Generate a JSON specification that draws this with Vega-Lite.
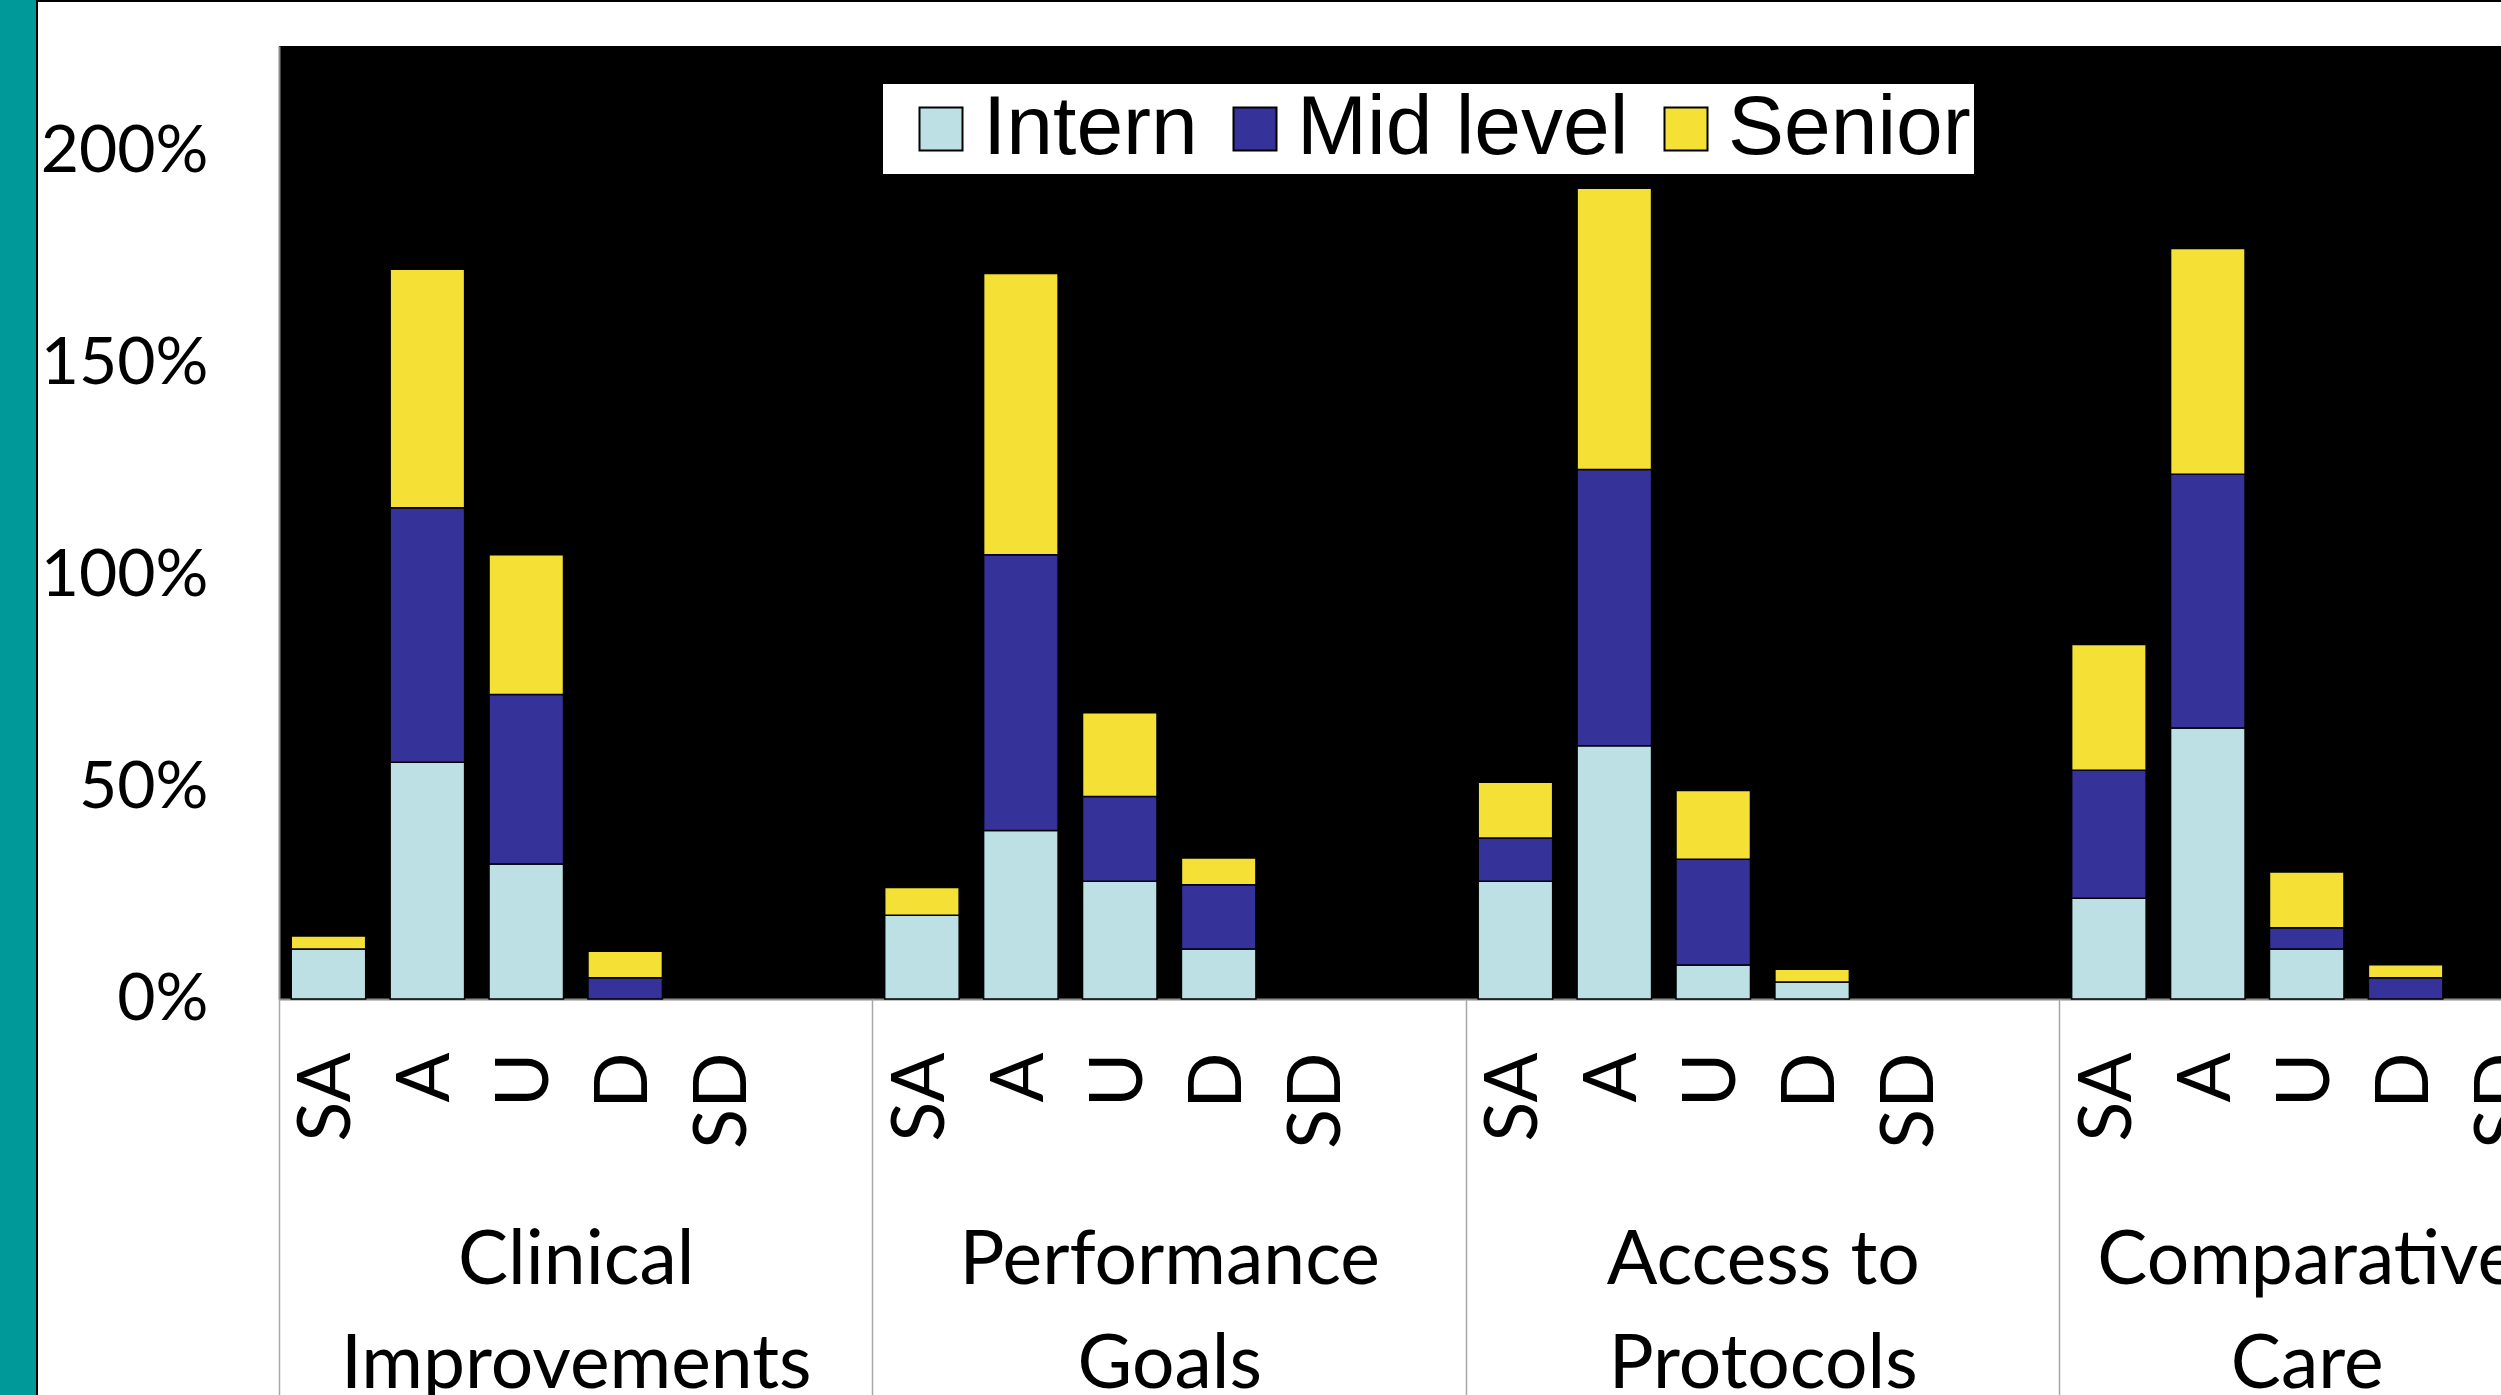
{
  "$schema": "https://vega.github.io/schema/vega-lite/v6.json",
  "width": 2222,
  "height": 953,
  "autosize": {"type": "none"},
  "padding": {"left": 279, "top": 46, "right": 0, "bottom": 396},
  "background": "white",
  "config": {
    "view": {"fill": "black", "stroke": null},
    "axis": {"grid": false, "labelColor": "black", "title": null}
  },
  "datasets": {
    "survey": [
      {"topic": "Clinical Improvements", "answer": "SA", "level": "Intern", "pct": 0.118},
      {"topic": "Clinical Improvements", "answer": "SA", "level": "Mid level", "pct": 0},
      {"topic": "Clinical Improvements", "answer": "SA", "level": "Senior", "pct": 0.031},
      {"topic": "Clinical Improvements", "answer": "A", "level": "Intern", "pct": 0.559},
      {"topic": "Clinical Improvements", "answer": "A", "level": "Mid level", "pct": 0.601},
      {"topic": "Clinical Improvements", "answer": "A", "level": "Senior", "pct": 0.563},
      {"topic": "Clinical Improvements", "answer": "U", "level": "Intern", "pct": 0.319},
      {"topic": "Clinical Improvements", "answer": "U", "level": "Mid level", "pct": 0.4},
      {"topic": "Clinical Improvements", "answer": "U", "level": "Senior", "pct": 0.33},
      {"topic": "Clinical Improvements", "answer": "D", "level": "Intern", "pct": 0},
      {"topic": "Clinical Improvements", "answer": "D", "level": "Mid level", "pct": 0.05},
      {"topic": "Clinical Improvements", "answer": "D", "level": "Senior", "pct": 0.063},
      {"topic": "Clinical Improvements", "answer": "SD", "level": "Intern", "pct": 0},
      {"topic": "Clinical Improvements", "answer": "SD", "level": "Mid level", "pct": 0},
      {"topic": "Clinical Improvements", "answer": "SD", "level": "Senior", "pct": 0},
      {"topic": "Performance Goals", "answer": "SA", "level": "Intern", "pct": 0.198},
      {"topic": "Performance Goals", "answer": "SA", "level": "Mid level", "pct": 0},
      {"topic": "Performance Goals", "answer": "SA", "level": "Senior", "pct": 0.065},
      {"topic": "Performance Goals", "answer": "A", "level": "Intern", "pct": 0.398},
      {"topic": "Performance Goals", "answer": "A", "level": "Mid level", "pct": 0.651},
      {"topic": "Performance Goals", "answer": "A", "level": "Senior", "pct": 0.664},
      {"topic": "Performance Goals", "answer": "U", "level": "Intern", "pct": 0.278},
      {"topic": "Performance Goals", "answer": "U", "level": "Mid level", "pct": 0.2},
      {"topic": "Performance Goals", "answer": "U", "level": "Senior", "pct": 0.198},
      {"topic": "Performance Goals", "answer": "D", "level": "Intern", "pct": 0.118},
      {"topic": "Performance Goals", "answer": "D", "level": "Mid level", "pct": 0.152},
      {"topic": "Performance Goals", "answer": "D", "level": "Senior", "pct": 0.063},
      {"topic": "Performance Goals", "answer": "SD", "level": "Intern", "pct": 0},
      {"topic": "Performance Goals", "answer": "SD", "level": "Mid level", "pct": 0},
      {"topic": "Performance Goals", "answer": "SD", "level": "Senior", "pct": 0},
      {"topic": "Access to Protocols", "answer": "SA", "level": "Intern", "pct": 0.278},
      {"topic": "Access to Protocols", "answer": "SA", "level": "Mid level", "pct": 0.102},
      {"topic": "Access to Protocols", "answer": "SA", "level": "Senior", "pct": 0.132},
      {"topic": "Access to Protocols", "answer": "A", "level": "Intern", "pct": 0.598},
      {"topic": "Access to Protocols", "answer": "A", "level": "Mid level", "pct": 0.652},
      {"topic": "Access to Protocols", "answer": "A", "level": "Senior", "pct": 0.664},
      {"topic": "Access to Protocols", "answer": "U", "level": "Intern", "pct": 0.08},
      {"topic": "Access to Protocols", "answer": "U", "level": "Mid level", "pct": 0.25},
      {"topic": "Access to Protocols", "answer": "U", "level": "Senior", "pct": 0.162},
      {"topic": "Access to Protocols", "answer": "D", "level": "Intern", "pct": 0.04},
      {"topic": "Access to Protocols", "answer": "D", "level": "Mid level", "pct": 0},
      {"topic": "Access to Protocols", "answer": "D", "level": "Senior", "pct": 0.03},
      {"topic": "Access to Protocols", "answer": "SD", "level": "Intern", "pct": 0},
      {"topic": "Access to Protocols", "answer": "SD", "level": "Mid level", "pct": 0},
      {"topic": "Access to Protocols", "answer": "SD", "level": "Senior", "pct": 0},
      {"topic": "Comparative Care", "answer": "SA", "level": "Intern", "pct": 0.238},
      {"topic": "Comparative Care", "answer": "SA", "level": "Mid level", "pct": 0.302},
      {"topic": "Comparative Care", "answer": "SA", "level": "Senior", "pct": 0.297},
      {"topic": "Comparative Care", "answer": "A", "level": "Intern", "pct": 0.64},
      {"topic": "Comparative Care", "answer": "A", "level": "Mid level", "pct": 0.599},
      {"topic": "Comparative Care", "answer": "A", "level": "Senior", "pct": 0.533},
      {"topic": "Comparative Care", "answer": "U", "level": "Intern", "pct": 0.118},
      {"topic": "Comparative Care", "answer": "U", "level": "Mid level", "pct": 0.05},
      {"topic": "Comparative Care", "answer": "U", "level": "Senior", "pct": 0.132},
      {"topic": "Comparative Care", "answer": "D", "level": "Intern", "pct": 0},
      {"topic": "Comparative Care", "answer": "D", "level": "Mid level", "pct": 0.05},
      {"topic": "Comparative Care", "answer": "D", "level": "Senior", "pct": 0.031},
      {"topic": "Comparative Care", "answer": "SD", "level": "Intern", "pct": 0},
      {"topic": "Comparative Care", "answer": "SD", "level": "Mid level", "pct": 0},
      {"topic": "Comparative Care", "answer": "SD", "level": "Senior", "pct": 0}
    ]
  },
  "layer": [
    {
      "data": {"name": "survey"},
      "transform": [
        {"filter": "datum.pct > 0"},
        {"calculate": "datum.topic + '|' + datum.answer", "as": "slot"}
      ],
      "mark": {"type": "bar", "width": {"band": 0.753}, "stroke": "black", "strokeWidth": 1.5},
      "encoding": {
        "x": {
          "field": "slot",
          "type": "nominal",
          "sort": null,
          "scale": {
            "domain": [
              "Clinical Improvements|SA", "Clinical Improvements|A", "Clinical Improvements|U", "Clinical Improvements|D", "Clinical Improvements|SD", "Clinical Improvements|",
              "Performance Goals|SA", "Performance Goals|A", "Performance Goals|U", "Performance Goals|D", "Performance Goals|SD", "Performance Goals|",
              "Access to Protocols|SA", "Access to Protocols|A", "Access to Protocols|U", "Access to Protocols|D", "Access to Protocols|SD", "Access to Protocols|",
              "Comparative Care|SA", "Comparative Care|A", "Comparative Care|U", "Comparative Care|D", "Comparative Care|SD"
            ],
            "range": [0, 2275],
            "paddingInner": 0,
            "paddingOuter": 0
          },
          "axis": {
            "orient": "bottom",
            "labelExpr": "slice(datum.value, indexof(datum.value, '|') + 1)",
            "labelAngle": 270,
            "labelFont": "Lato",
            "labelFontSize": 74,
            "labelPadding": 53,
            "labelOverlap": false,
            "labelBound": false,
            "ticks": false,
            "domainColor": "#8c8c8c",
            "domainWidth": 2
          }
        },
        "y": {
          "field": "pct",
          "type": "quantitative",
          "stack": "zero",
          "scale": {"domain": [0, 2.25], "nice": false},
          "axis": {
            "values": [0, 0.5, 1, 1.5, 2],
            "format": ".0%",
            "labelFont": "Lato",
            "labelFontSize": 66,
            "labelPadding": 71,
            "ticks": false,
            "domainColor": "#8c8c8c",
            "domainWidth": 2
          }
        },
        "color": {
          "field": "level",
          "type": "nominal",
          "scale": {"domain": ["Intern", "Mid level", "Senior"], "range": ["#BCE0E3", "#353399", "#F5E135"]},
          "legend": {
            "orient": "none",
            "legendX": 604,
            "legendY": 38,
            "direction": "horizontal",
            "title": null,
            "fillColor": "white",
            "padding": 3,
            "symbolOffset": 13,
            "symbolType": "square",
            "symbolSize": 1849,
            "symbolStrokeColor": "black",
            "symbolStrokeWidth": 2,
            "symbolOpacity": 1,
            "labelFont": "Liberation Sans",
            "labelFontSize": 84,
            "labelColor": "black",
            "labelOffset": 0,
            "columnPadding": 2,
            "labelLimit": 1000
          }
        },
        "order": {"field": "level", "type": "nominal", "sort": "ascending"}
      }
    },
    {
      "data": {"values": [{}]},
      "mark": {"type": "rule", "strokeOpacity": 0},
      "encoding": {
        "x": {
          "datum": 0,
          "type": "quantitative",
          "scale": {"domain": [0, 23], "range": [0, 2275], "nice": false, "zero": false},
          "axis": {
            "orient": "bottom",
            "values": [3, 9, 15, 20.5],
            "labelExpr": "datum.value == 3 ? ['Clinical', 'Improvements'] : datum.value == 9 ? ['Performance', 'Goals'] : datum.value == 15 ? ['Access to', 'Protocols'] : ['Comparative', 'Care']",
            "labelFont": "Lato",
            "labelFontSize": 75,
            "labelLineHeight": 104,
            "labelPadding": 225,
            "labelAngle": 0,
            "labelAlign": "center",
            "labelLimit": 1000,
            "labelFlush": false,
            "labelOverlap": false,
            "labelBound": false,
            "ticks": false,
            "domain": false
          }
        }
      }
    },
    {
      "data": {"values": [{}]},
      "mark": {"type": "rule", "strokeOpacity": 0},
      "encoding": {
        "x": {
          "datum": 0,
          "type": "quantitative",
          "scale": {"domain": [0, 23], "range": [0, 2275], "nice": false, "zero": false},
          "axis": {
            "orient": "bottom",
            "values": [0, 6, 12, 18],
            "labels": false,
            "domain": false,
            "ticks": true,
            "tickSize": 400,
            "tickColor": "#a6a6a6",
            "tickWidth": 1.5
          }
        }
      }
    },
    {
      "data": {"values": [{}]},
      "mark": {"type": "rect", "fill": "#009999", "stroke": "black", "strokeWidth": 2},
      "encoding": {
        "x": {"datum": -3.2, "type": "quantitative", "scale": {"domain": [0, 23], "range": [0, 2275], "nice": false, "zero": false}, "axis": null},
        "x2": {"datum": -2.4466},
        "y": {"datum": -1.5, "type": "quantitative", "scale": {"domain": [0, 2.25], "nice": false}, "axis": null},
        "y2": {"datum": 2.7}
      }
    },
    {
      "data": {"values": [{}]},
      "mark": {"type": "rule", "color": "black", "strokeWidth": 2},
      "encoding": {
        "x": {"datum": -2.4466, "type": "quantitative", "scale": {"domain": [0, 23], "range": [0, 2275], "nice": false, "zero": false}, "axis": null},
        "x2": {"datum": 30},
        "y": {"datum": 2.3562, "type": "quantitative", "scale": {"domain": [0, 2.25], "nice": false}, "axis": null}
      }
    }
  ],
  "resolve": {
    "scale": {"x": "independent", "y": "independent"},
    "axis": {"x": "independent", "y": "independent"}
  }
}
